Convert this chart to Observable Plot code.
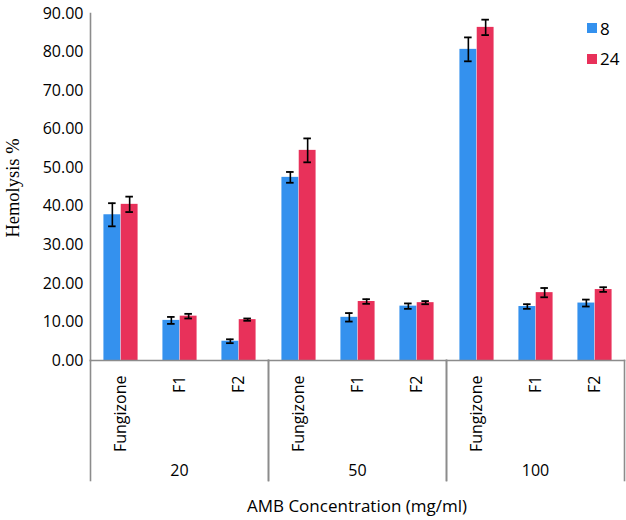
<!DOCTYPE html>
<html>
<head>
<meta charset="utf-8">
<script src="https://cdn.jsdelivr.net/npm/d3@7"></script>
<script src="https://cdn.jsdelivr.net/npm/@observablehq/plot@0.6"></script>
<style>
  html, body { margin: 0; padding: 0; background: #fff; }
  #wrap { position: relative; width: 626px; height: 520px; font-family: "Open Sans", sans-serif; }
  #ytitle { position: absolute; left: 13px; top: 188px; transform: translate(-50%, -50%) rotate(-90deg);
            font-family: "Liberation Serif", "DejaVu Serif", serif; font-size: 18.5px; white-space: nowrap; color: #000; }
  #xtitle { position: absolute; left: 357px; top: 505px; transform: translate(-50%, -50%);
            font-size: 17px; white-space: nowrap; color: #000; }
  #legend { position: absolute; left: 587px; top: 13px; font-size: 17px; color: #000; }
  .li { display: flex; align-items: center; height: 30.5px; }
  .sw { width: 10px; height: 10px; margin-right: 3px; }
</style>
</head>
<body>
<div id="wrap">
  <div id="chart"></div>
  <div id="ytitle">Hemolysis %</div>
  <div id="xtitle">AMB Concentration (mg/ml)</div>
  <div id="legend"></div>
</div>
<script>
// ---- data ----
const groups = ["20", "50", "100"];
const formulations = ["Fungizone", "F1", "F2"];
const series = ["8", "24"];
const colors = ["#3491ee", "#e8315a"];
// values listed in order: group 20 (Fungizone, F1, F2), group 50 (...), group 100 (...)
const hemo8  = [37.8, 10.4, 5.0, 47.5, 11.2, 14.1, 80.7, 14.0, 14.9];
const err8   = [3.0, 0.9, 0.5, 1.4, 1.1, 0.7, 3.1, 0.6, 0.9];
const hemo24 = [40.5, 11.5, 10.6, 54.5, 15.3, 15.0, 86.4, 17.6, 18.4];
const err24  = [2.0, 0.6, 0.3, 3.1, 0.6, 0.4, 2.0, 1.2, 0.6];
const yTicks = [0, 10, 20, 30, 40, 50, 60, 70, 80, 90];

const rows = [];
groups.forEach((g, gi) => formulations.forEach((f, fi) => {
  const i = gi * formulations.length + fi;
  rows.push({group: g, form: f, series: series[0], value: hemo8[i], err: err8[i]});
  rows.push({group: g, form: f, series: series[1], value: hemo24[i], err: err24[i]});
}));
const s0 = rows.filter(d => d.series === series[0]);
const s1 = rows.filter(d => d.series === series[1]);

// layout (px) of a pair of bars inside a formulation band
const W = 626, H = 520, mL = 89, mR = 2, mT = 13, mB = 160;
const band = (W - mL - mR) / (groups.length * formulations.length);
const barW = 17.3, capW = 8;
const outer = (band - 2 * barW) / 2;
const axisColor = "#8c8c8c";

const chart = Plot.plot({
  width: W, height: H,
  marginLeft: mL, marginRight: mR, marginTop: mT, marginBottom: mB,
  style: {fontFamily: "Open Sans, sans-serif", fontSize: "16px", color: "#000", background: "#fff"},
  fx: {domain: groups, padding: 0, label: null},
  x: {domain: formulations, padding: 0, label: null},
  y: {domain: [0, 90], label: null},
  color: {domain: series, range: colors},
  marks: [
    Plot.barY(s0, {fx: "group", x: "form", y: "value", fill: colors[0], insetLeft: outer, insetRight: outer + barW}),
    Plot.barY(s1, {fx: "group", x: "form", y: "value", fill: colors[1], insetLeft: outer + barW, insetRight: outer}),
    // error bars
    Plot.ruleX(s0, {fx: "group", x: "form", y1: d => d.value - d.err, y2: d => d.value + d.err, dx: -barW / 2, stroke: "#000", strokeWidth: 1.6}),
    Plot.ruleX(s1, {fx: "group", x: "form", y1: d => d.value - d.err, y2: d => d.value + d.err, dx: barW / 2, stroke: "#000", strokeWidth: 1.6}),
    Plot.tickY(s0, {fx: "group", x: "form", y: d => d.value - d.err, insetLeft: outer + barW / 2 - capW / 2, insetRight: outer + barW + barW / 2 - capW / 2, stroke: "#000", strokeWidth: 1.8}),
    Plot.tickY(s0, {fx: "group", x: "form", y: d => d.value + d.err, insetLeft: outer + barW / 2 - capW / 2, insetRight: outer + barW + barW / 2 - capW / 2, stroke: "#000", strokeWidth: 1.8}),
    Plot.tickY(s1, {fx: "group", x: "form", y: d => d.value - d.err, insetLeft: outer + barW + barW / 2 - capW / 2, insetRight: outer + barW / 2 - capW / 2, stroke: "#000", strokeWidth: 1.8}),
    Plot.tickY(s1, {fx: "group", x: "form", y: d => d.value + d.err, insetLeft: outer + barW + barW / 2 - capW / 2, insetRight: outer + barW / 2 - capW / 2, stroke: "#000", strokeWidth: 1.8}),
    // axis lines and group dividers
    Plot.frame({anchor: "bottom", stroke: axisColor, strokeWidth: 1.6}),
    Plot.frame({anchor: "left", facetAnchor: "left", stroke: axisColor, strokeWidth: 1.6}),
    Plot.frame({anchor: "left", insetTop: H - mT - mB, insetBottom: -120, stroke: axisColor, strokeWidth: 1.6}),
    Plot.frame({anchor: "right", insetTop: H - mT - mB, insetBottom: -120, stroke: axisColor, strokeWidth: 1.6}),
    // axes
    Plot.axisY({ticks: yTicks, tickFormat: d => d.toFixed(2), tickSize: 0, tickPadding: 7, fontSize: 16, label: null}),
    Plot.axisX({tickRotate: -90, tickSize: 0, tickPadding: 15, fontSize: 16, label: null}),
    Plot.axisFx({anchor: "bottom", tickSize: 0, tickPadding: 104, fontSize: 16, label: null})
  ]
});
document.getElementById("chart").appendChild(chart);

// legend built from series
const leg = document.getElementById("legend");
series.forEach((s, i) => {
  const row = document.createElement("div");
  row.className = "li";
  row.innerHTML = `<div class="sw" style="background:${colors[i]}"></div><span>${s}</span>`;
  leg.appendChild(row);
});
</script>
</body>
</html>
